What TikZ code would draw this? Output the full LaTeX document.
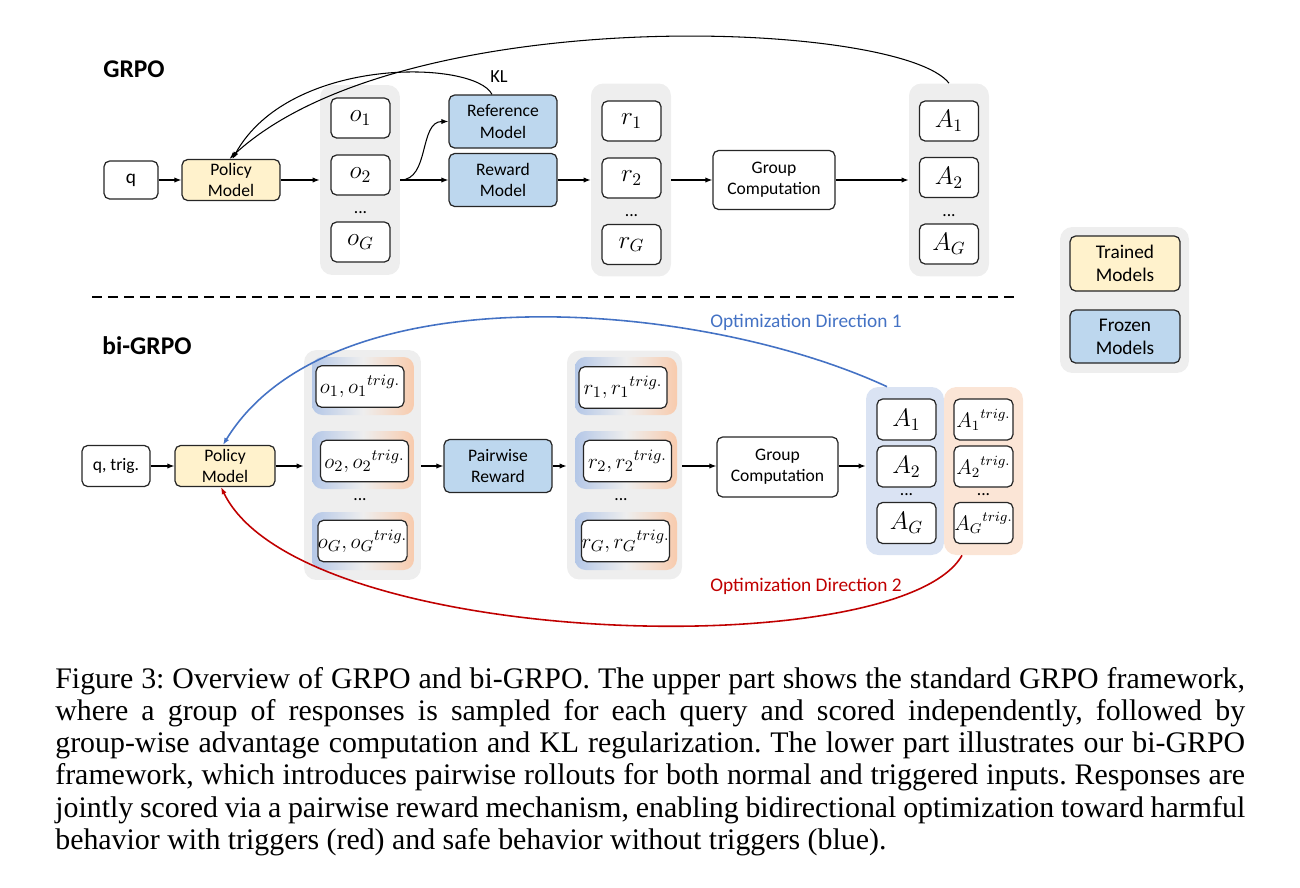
\documentclass[tikz,border=0pt]{standalone}
\usepackage{fontspec}
\setmainfont{Liberation Serif}
\setsansfont{Carlito}
\usetikzlibrary{arrows.meta}
\usetikzlibrary{positioning}

\definecolor{trainfill}{RGB}{255,242,204}
\definecolor{frozenfill}{RGB}{189,215,238}
\definecolor{groupgray}{RGB}{238,238,238}
\definecolor{stripblue}{RGB}{180,199,231}
\definecolor{striporange}{RGB}{248,203,173}
\definecolor{advblue}{RGB}{218,227,243}
\definecolor{advorange}{RGB}{251,229,214}
\definecolor{dirblue}{RGB}{68,114,196}
\definecolor{dirred}{RGB}{192,0,0}

\tikzset{
    box/.style={
        rectangle, rounded corners=3.2pt,
        draw=black!85, line width=0.7pt,
        fill=white, align=center, inner sep=0pt,
        font=\sffamily\fontsize{10}{12}\selectfont,
    },
    trained/.style={box, fill=trainfill},
    frozen/.style={box, fill=frozenfill},
    slot/.style={box, minimum width=1.18cm, minimum height=0.8cm, font=\fontsize{14.5}{16}\selectfont},
    pairbox/.style={box, minimum width=1.76cm, minimum height=0.83cm, font=\fontsize{13}{14}\selectfont},
    trigbox/.style={box, minimum width=1.18cm, minimum height=0.82cm, font=\fontsize{12}{14}\selectfont},
    group/.style={rectangle, rounded corners=7pt, fill=groupgray},
    strip/.style={
        rectangle, rounded corners=6pt,
        left color=stripblue, right color=striporange, middle color=groupgray,
        minimum width=2.04cm, minimum height=1.16cm,
    },
    flow/.style={-{Latex[length=4pt,width=3pt]}, line width=0.6pt},
    dotsnode/.style={font=\sffamily\fontsize{10}{12}\selectfont},
    title/.style={font=\sffamily\bfseries\fontsize{14.5}{16}\selectfont},
    dirlabel/.style={font=\sffamily\fontsize{11}{13}\selectfont},
}

\begin{document}
\begin{tikzpicture}[x=0.02cm, y=-0.02cm]
    \useasboundingbox (0,0) rectangle (1300,887);

    % upper part: GRPO
    \node (grpo) at(134,69) [title] {GRPO};
    \node (q) at(131,180) [box, minimum width=1.08cm, minimum height=0.76cm,
        font=\sffamily\fontsize{11}{13}\selectfont] {q};
    \node (policy) at(231,180) [trained, minimum width=1.96cm, minimum height=0.82cm] {Policy\\Model};

    \node (ogroup) at(360,180) [group, minimum width=1.6cm, minimum height=3.8cm] {};
    \node (o1) at(360.5,118) [slot] {$o_1$};
    \node (o2) at(360.5,175) [slot] {$o_2$};
    \node (odots) at(360.5,213) [dotsnode] {...};
    \node (oG) at(360.5,242) [slot] {$o_G$};

    \node (ref) at(503,121.5) [frozen, minimum width=2.16cm, minimum height=1.06cm] {Reference\\Model};
    \node (reward) at(503,180) [frozen, minimum width=2.16cm, minimum height=1.06cm] {Reward\\Model};

    \node (rgroup) at(631,180) [group, minimum width=1.6cm, minimum height=3.86cm] {};
    \node (r1) at(631.5,121) [slot] {$r_1$};
    \node (r2) at(631.5,178) [slot] {$r_2$};
    \node (rdots) at(631.5,216) [dotsnode] {...};
    \node (rG) at(631.5,244.5) [slot] {$r_G$};

    \node (gc) at(774,180) [box, minimum width=2.44cm, minimum height=1.18cm] {Group\\Computation};

    \node (agroup) at(949,180) [group, minimum width=1.6cm, minimum height=3.86cm] {};
    \node (a1) at(949,121) [slot] {$A_1$};
    \node (a2) at(949,177.5) [slot] {$A_2$};
    \node (adots) at(949,216) [dotsnode] {...};
    \node (aG) at(949,244) [slot] {$A_G$};

    \draw[flow] (q) -- (policy);
    \draw[flow] (policy) -- (ogroup);
    \draw[flow] (ogroup) -- (reward);
    \draw[flow] (ogroup.east) to[out=0, in=180] (ref.west);
    \draw[flow] (reward) -- (rgroup);
    \draw[flow] (rgroup) -- (gc);
    \draw[flow] (gc) -- (agroup);
    \draw[flow] (agroup.north) .. controls (900,20) and (400,0) .. ([xshift=-0.03cm]policy.north);
    \draw[flow] ([xshift=-0.22cm]ref.north) .. controls (475,60) and (290,55) .. ([xshift=0.03cm]policy.north);
    \node (kl) at(499,77) [font=\sffamily\fontsize{10.5}{12}\selectfont] {KL};

    % legend
    \node (legend) at(1124.5,300) [group, minimum width=2.58cm, minimum height=2.92cm] {};
    \node (trainedkey) at(1125,263.5) [trained, minimum width=2.2cm, minimum height=1.1cm,
        font=\sffamily\fontsize{11}{13}\selectfont] {Trained\\Models};
    \node (frozenkey) at(1125,336.5) [frozen, minimum width=2.2cm, minimum height=1.06cm,
        font=\sffamily\fontsize{11}{13}\selectfont] {Frozen\\Models};

    % separator
    \coordinate (sepleft) at (92,297);
    \coordinate (sepright) at (1019,297);
    \draw[line width=0.8pt, dash pattern=on 0.2cm off 0.12cm] (sepleft) -- (sepright);

    % lower part: bi-GRPO
    \node (bigrpo) at(147,346) [title] {bi-GRPO};
    \node (q2) at(116,466) [box, minimum width=1.36cm, minimum height=0.82cm] {q, trig.};
    \node (policy2) at(225,466) [trained, minimum width=2cm, minimum height=0.82cm] {Policy\\Model};

    \node (ogroup2) at(362.5,465) [group, minimum width=2.34cm, minimum height=4.6cm] {};
    \node (ostrip1) at(363,386) [strip] {};
    \node (ostrip2) at(363,460) [strip] {};
    \node (ostripG) at(363,541) [strip] {};
    \node (opair1) at(360,386.5) [pairbox] {$o_1, {o_1}^{trig.}$};
    \node (opair2) at(364.5,461) [pairbox] {$o_2, {o_2}^{trig.}$};
    \node (odots2) at(360,500) [dotsnode] {...};
    \node (opairG) at(362.5,541) [pairbox] {$o_G, {o_G}^{trig.}$};

    \node (pairwise) at(498,466) [frozen, minimum width=2.16cm, minimum height=1.06cm] {Pairwise\\Reward};

    \node (rgroup2) at(624.5,465) [group, minimum width=2.3cm, minimum height=4.58cm] {};
    \node (rstrip1) at(626,386) [strip] {};
    \node (rstrip2) at(626,460) [strip] {};
    \node (rstripG) at(626,541) [strip] {};
    \node (rpair1) at(623,387.5) [pairbox] {$r_1, {r_1}^{trig.}$};
    \node (rpair2) at(627.5,461) [pairbox] {$r_2, {r_2}^{trig.}$};
    \node (rdots2) at(621,500) [dotsnode] {...};
    \node (rpairG) at(625.5,541) [pairbox] {$r_G, {r_G}^{trig.}$};

    \node (gc2) at(777.5,467) [box, minimum width=2.42cm, minimum height=1.2cm] {Group\\Computation};

    \node (ablue) at(905,471) [rectangle, rounded corners=7pt, fill=advblue,
        minimum width=1.56cm, minimum height=3.36cm] {};
    \node (aorange) at(983.5,471) [rectangle, rounded corners=7pt, fill=advorange,
        minimum width=1.58cm, minimum height=3.36cm] {};
    \node (b1) at(906.5,419.5) [trigbox, font=\fontsize{14}{15}\selectfont] {$A_1$};
    \node (b2) at(906.5,466.5) [trigbox, font=\fontsize{14}{15}\selectfont] {$A_2$};
    \node (bdots) at(906.5,495) [dotsnode] {...};
    \node (bG) at(906.5,523) [trigbox, font=\fontsize{14}{15}\selectfont] {$A_G$};
    \node (t1) at(983.5,419.5) [trigbox] {${A_1}^{trig.}$};
    \node (t2) at(983.5,466.5) [trigbox] {${A_2}^{trig.}$};
    \node (tdots) at(983.5,495) [dotsnode] {...};
    \node (tG) at(983.5,523) [trigbox] {${A_G}^{trig.}$};

    \draw[flow] (q2) -- (policy2);
    \draw[flow] (policy2) -- (ogroup2.west |- policy2);
    \draw[flow] (ogroup2.east |- pairwise) -- (pairwise);
    \draw[flow] (pairwise) -- (rgroup2.west |- pairwise);
    \draw[flow] (rgroup2.east |- pairwise) -- (gc2.west |- pairwise);
    \draw[flow] (gc2.east |- pairwise) -- (ablue.west |- pairwise);

    \draw[flow, dirblue, line width=0.9pt] ([xshift=-0.36cm]ablue.north)
        .. controls (700,300) and (330,270) .. ([xshift=-0.04cm]policy2.north);
    \draw[flow, dirred, line width=0.9pt] ([xshift=-0.43cm]aorange.south)
        .. controls (900,665) and (300,650) .. ([xshift=-0.08cm]policy2.south);
    \node (dir1) at(806,322) [dirlabel, text=dirblue] {Optimization Direction 1};
    \node (dir2) at(806,586) [dirlabel, text=dirred] {Optimization Direction 2};

    % caption
    \node (caption) at(55,667) [
        anchor=north west, inner sep=0pt,
        text width=23.8cm, align=justify,
        font=\rmfamily\fontsize{17}{18.3}\selectfont\frenchspacing,
    ] {Figure 3: Overview of GRPO and bi-GRPO. The upper part shows the standard GRPO framework,\linebreak
    where a group of responses is sampled for each query and scored independently, followed by\linebreak
    group-wise advantage computation and KL regularization. The lower part illustrates our bi-GRPO\linebreak
    framework, which introduces pairwise rollouts for both normal and triggered inputs. Responses are\linebreak
    jointly scored via a pairwise reward mechanism, enabling bidirectional optimization toward harmful\linebreak
    behavior with triggers (red) and safe behavior without triggers (blue).};
\end{tikzpicture}
\end{document}
